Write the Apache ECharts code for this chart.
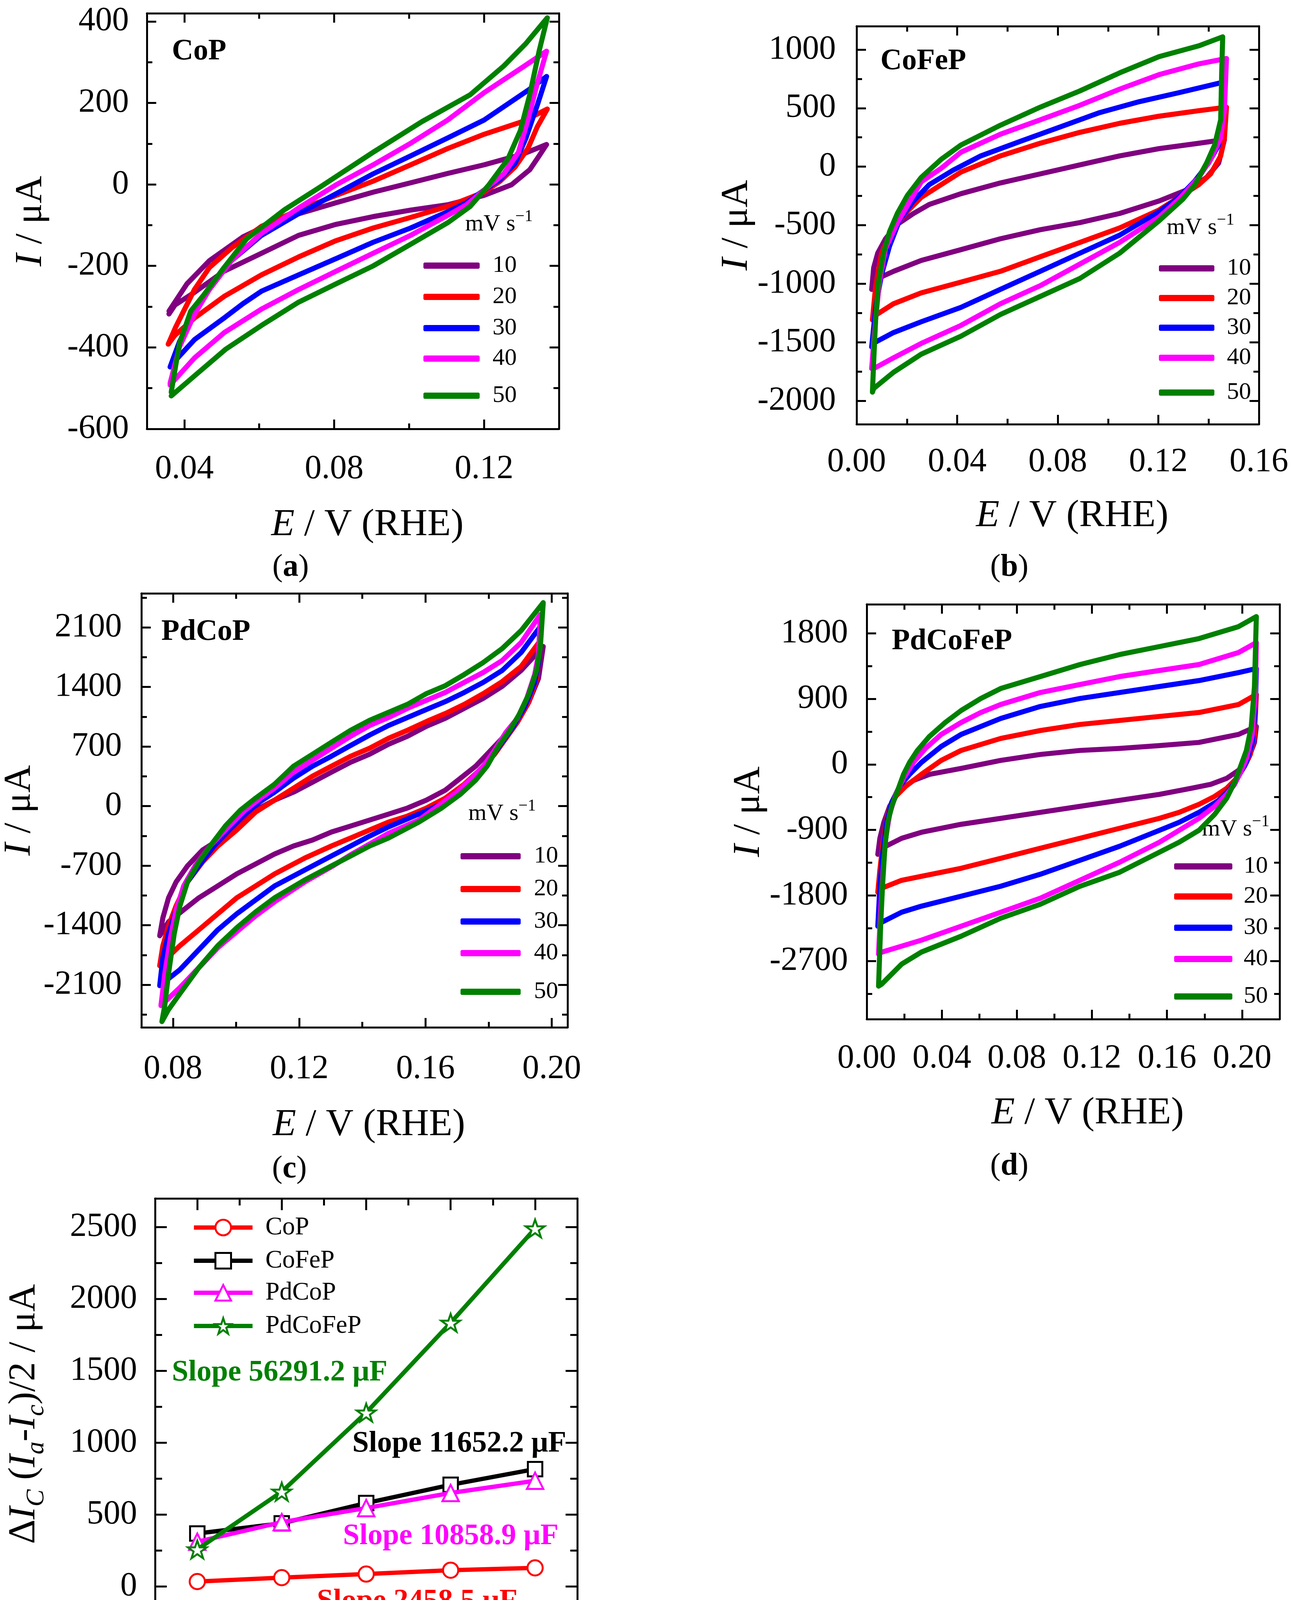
<!DOCTYPE html>
<html><head><meta charset="utf-8">
<script src="https://cdn.jsdelivr.net/npm/echarts@6/dist/echarts.min.js"></script>
<style>html,body{margin:0;padding:0;background:#fff}#c{width:3341px;height:4614px}</style>
</head><body><div id="c"></div><script>
const FONT = "'Liberation Serif','Times New Roman',Times,serif";
const rates = ['10','20','30','40','50'];
const rateColors = ['#800080','#ff0000','#0000ff','#ff00ff','#008000'];

// ---------- (a) CoP : [E / V, I / uA] ----------
const CoP_10 = [[0.0359,-311],[0.0407,-244],[0.0467,-187],[0.0556,-129],[0.0626,-98],[0.0705,-72],[0.0805,-45],[0.0904,-19],[0.1004,4],[0.1103,27],[0.1200,48],[0.1302,74],[0.1367,98],[0.1347,70],[0.1322,36],[0.1273,-1],[0.1200,-27],[0.1103,-50],[0.1004,-63],[0.0904,-79],[0.0805,-98],[0.0705,-125],[0.0606,-169],[0.0506,-213],[0.0427,-265],[0.0375,-296],[0.0359,-318]];
const CoP_20 = [[0.0357,-392],[0.0377,-350],[0.0427,-258],[0.0467,-204],[0.0526,-156],[0.0606,-103],[0.0705,-63],[0.0805,-27],[0.0904,8],[0.1004,48],[0.1103,88],[0.1200,123],[0.1302,154],[0.1369,185],[0.1342,141],[0.1317,88],[0.1283,43],[0.1243,8],[0.1200,-19],[0.1103,-54],[0.1004,-81],[0.0904,-107],[0.0805,-138],[0.0705,-178],[0.0606,-222],[0.0506,-275],[0.0427,-328],[0.0375,-370],[0.0357,-392]];
const CoP_30 = [[0.0362,-448],[0.0387,-386],[0.0427,-315],[0.0467,-253],[0.0526,-187],[0.0606,-125],[0.0705,-72],[0.0805,-23],[0.0904,26],[0.1004,70],[0.1103,114],[0.1200,158],[0.1322,234],[0.1367,265],[0.1342,194],[0.1312,114],[0.1283,52],[0.1243,12],[0.1200,-14],[0.1153,-45],[0.1103,-67],[0.1004,-107],[0.0904,-142],[0.0805,-182],[0.0705,-222],[0.0606,-262],[0.0556,-293],[0.0506,-328],[0.0427,-381],[0.0365,-443]];
const CoP_40 = [[0.0362,-488],[0.0387,-399],[0.0427,-319],[0.0467,-258],[0.0526,-187],[0.0606,-120],[0.0705,-58],[0.0805,-1],[0.0904,48],[0.1004,101],[0.1103,158],[0.1200,225],[0.1302,287],[0.1367,327],[0.1342,247],[0.1317,158],[0.1292,79],[0.1253,26],[0.1200,-14],[0.1153,-50],[0.1103,-76],[0.1004,-125],[0.0904,-169],[0.0805,-213],[0.0705,-258],[0.0606,-306],[0.0506,-364],[0.0427,-426],[0.0362,-492]];
const CoP_50 = [[0.0365,-510],[0.0387,-390],[0.0417,-311],[0.0452,-271],[0.0506,-204],[0.0566,-134],[0.0666,-63],[0.0765,-5],[0.0904,79],[0.1034,154],[0.1163,220],[0.1253,291],[0.1312,346],[0.1369,409],[0.1347,327],[0.1322,220],[0.1297,132],[0.1263,61],[0.1213,-1],[0.1163,-54],[0.1103,-94],[0.1004,-147],[0.0904,-200],[0.0805,-244],[0.0705,-289],[0.0606,-346],[0.0511,-404],[0.0427,-470],[0.0365,-519]];

// ---------- (b) CoFeP ----------
const CoFeP_10 = [[0.0060,-1048],[0.0068,-863],[0.0084,-739],[0.0115,-616],[0.0162,-493],[0.0226,-400],[0.0289,-323],[0.0415,-231],[0.0572,-139],[0.0730,-62],[0.0888,15],[0.1046,92],[0.1203,154],[0.1361,200],[0.1463,231],[0.1440,31],[0.1392,-92],[0.1329,-185],[0.1203,-293],[0.1046,-400],[0.0888,-478],[0.0730,-539],[0.0572,-616],[0.0415,-709],[0.0257,-801],[0.0147,-894],[0.0084,-955],[0.0065,-1017],[0.0060,-1048]];
const CoFeP_20 = [[0.0063,-1309],[0.0076,-1017],[0.0099,-739],[0.0139,-555],[0.0194,-400],[0.0257,-262],[0.0336,-154],[0.0415,-46],[0.0572,92],[0.0730,200],[0.0888,293],[0.1046,370],[0.1203,431],[0.1361,478],[0.1471,508],[0.1463,246],[0.1448,92],[0.1408,-62],[0.1361,-154],[0.1282,-262],[0.1203,-370],[0.1046,-524],[0.0888,-647],[0.0730,-770],[0.0572,-894],[0.0415,-986],[0.0257,-1078],[0.0147,-1171],[0.0068,-1279],[0.0063,-1309]];
const CoFeP_30 = [[0.0060,-1540],[0.0076,-1202],[0.0099,-924],[0.0131,-678],[0.0170,-462],[0.0226,-293],[0.0289,-154],[0.0383,-31],[0.0494,92],[0.0651,216],[0.0809,339],[0.0967,462],[0.1124,555],[0.1282,632],[0.1463,724],[0.1456,400],[0.1440,185],[0.1400,31],[0.1345,-123],[0.1282,-262],[0.1203,-385],[0.1046,-585],[0.0888,-739],[0.0730,-894],[0.0572,-1048],[0.0415,-1202],[0.0257,-1325],[0.0147,-1417],[0.0065,-1510],[0.0060,-1540]];
const CoFeP_40 = [[0.0060,-1725],[0.0076,-1294],[0.0091,-986],[0.0115,-700],[0.0162,-480],[0.0257,-130],[0.0336,-15],[0.0415,123],[0.0572,277],[0.0730,400],[0.0888,524],[0.1046,662],[0.1203,786],[0.1361,878],[0.1471,924],[0.1463,493],[0.1448,246],[0.1408,62],[0.1361,-92],[0.1282,-277],[0.1203,-431],[0.1046,-647],[0.0888,-832],[0.0730,-1017],[0.0572,-1171],[0.0415,-1356],[0.0257,-1510],[0.0147,-1633],[0.0068,-1725]];
const CoFeP_50 = [[0.0063,-1926],[0.0068,-1664],[0.0076,-1294],[0.0087,-986],[0.0107,-739],[0.0131,-555],[0.0162,-400],[0.0202,-246],[0.0257,-92],[0.0336,62],[0.0415,185],[0.0572,354],[0.0730,508],[0.0888,647],[0.1046,801],[0.1203,940],[0.1361,1032],[0.1456,1109],[0.1452,801],[0.1448,400],[0.1424,185],[0.1392,31],[0.1345,-154],[0.1298,-277],[0.1203,-462],[0.1046,-739],[0.0888,-955],[0.0730,-1109],[0.0572,-1263],[0.0415,-1448],[0.0257,-1602],[0.0147,-1756],[0.0068,-1895],[0.0063,-1926]];

// ---------- (c) PdCoP ----------
const PdCoP_10 = [[0.0758,-1524],[0.0768,-1313],[0.0786,-1078],[0.0810,-891],[0.0846,-703],[0.0894,-516],[0.0954,-375],[0.1014,-188],[0.1074,-23],[0.1122,70],[0.1182,164],[0.1242,281],[0.1302,399],[0.1363,516],[0.1423,610],[0.1483,727],[0.1543,821],[0.1603,938],[0.1663,1032],[0.1723,1149],[0.1783,1266],[0.1843,1407],[0.1903,1594],[0.1973,1876],[0.1958,1500],[0.1927,1219],[0.1891,985],[0.1843,797],[0.1807,656],[0.1759,469],[0.1711,328],[0.1663,188],[0.1603,70],[0.1543,-23],[0.1483,-94],[0.1423,-164],[0.1363,-234],[0.1302,-305],[0.1242,-399],[0.1182,-469],[0.1122,-563],[0.1062,-680],[0.1002,-797],[0.0942,-938],[0.0882,-1078],[0.0834,-1219],[0.0786,-1360],[0.0758,-1524]];
const PdCoP_20 = [[0.0758,-1876],[0.0768,-1641],[0.0786,-1407],[0.0810,-1172],[0.0846,-891],[0.0894,-656],[0.0942,-469],[0.1002,-281],[0.1062,-70],[0.1122,70],[0.1182,211],[0.1242,352],[0.1302,469],[0.1363,586],[0.1423,680],[0.1483,797],[0.1543,891],[0.1603,994],[0.1663,1088],[0.1723,1196],[0.1783,1322],[0.1843,1463],[0.1903,1641],[0.1964,1946],[0.1952,1500],[0.1927,1219],[0.1891,985],[0.1855,797],[0.1819,610],[0.1771,422],[0.1723,258],[0.1663,94],[0.1603,-23],[0.1543,-117],[0.1483,-188],[0.1423,-281],[0.1363,-375],[0.1302,-469],[0.1218,-610],[0.1122,-797],[0.1062,-938],[0.1002,-1078],[0.0942,-1266],[0.0882,-1454],[0.0822,-1641],[0.0762,-1852]];
const PdCoP_30 = [[0.0758,-2110],[0.0768,-1782],[0.0786,-1500],[0.0810,-1219],[0.0846,-891],[0.0882,-703],[0.0930,-469],[0.0978,-281],[0.1026,-94],[0.1074,47],[0.1122,164],[0.1182,328],[0.1242,469],[0.1302,586],[0.1363,713],[0.1423,835],[0.1483,947],[0.1543,1041],[0.1603,1135],[0.1663,1228],[0.1723,1336],[0.1783,1454],[0.1843,1594],[0.1903,1805],[0.1964,2110],[0.1958,1688],[0.1946,1454],[0.1915,1172],[0.1879,938],[0.1843,750],[0.1807,563],[0.1771,375],[0.1723,211],[0.1663,47],[0.1603,-56],[0.1543,-150],[0.1483,-244],[0.1423,-352],[0.1363,-469],[0.1302,-586],[0.1218,-750],[0.1122,-938],[0.1062,-1102],[0.1002,-1266],[0.0942,-1454],[0.0882,-1688],[0.0822,-1922],[0.0758,-2110]];
const PdCoP_40 = [[0.0762,-2344],[0.0774,-1969],[0.0792,-1547],[0.0810,-1219],[0.0834,-938],[0.0870,-703],[0.0918,-469],[0.0966,-281],[0.1026,-56],[0.1074,84],[0.1122,211],[0.1182,399],[0.1242,539],[0.1302,680],[0.1363,821],[0.1423,947],[0.1483,1041],[0.1543,1149],[0.1603,1243],[0.1663,1336],[0.1723,1454],[0.1783,1571],[0.1843,1711],[0.1903,1922],[0.1964,2251],[0.1958,1782],[0.1946,1547],[0.1921,1266],[0.1891,1031],[0.1855,868],[0.1819,656],[0.1783,469],[0.1747,328],[0.1699,164],[0.1639,0],[0.1579,-164],[0.1483,-319],[0.1423,-445],[0.1363,-572],[0.1302,-713],[0.1218,-891],[0.1122,-1125],[0.1062,-1290],[0.1002,-1477],[0.0942,-1665],[0.0882,-1899],[0.0822,-2133],[0.0762,-2344]];
const PdCoP_50 = [[0.0765,-2532],[0.0774,-2344],[0.0786,-1969],[0.0804,-1500],[0.0822,-1172],[0.0846,-891],[0.0882,-656],[0.0918,-469],[0.0966,-234],[0.1014,-47],[0.1062,94],[0.1122,258],[0.1182,469],[0.1242,609],[0.1302,750],[0.1363,891],[0.1423,1008],[0.1483,1102],[0.1543,1196],[0.1603,1322],[0.1663,1416],[0.1723,1547],[0.1783,1688],[0.1843,1852],[0.1903,2063],[0.1973,2391],[0.1964,1876],[0.1952,1594],[0.1927,1313],[0.1897,1078],[0.1867,891],[0.1831,703],[0.1795,469],[0.1759,305],[0.1711,141],[0.1651,-23],[0.1579,-188],[0.1483,-375],[0.1423,-469],[0.1363,-586],[0.1302,-703],[0.1218,-867],[0.1122,-1078],[0.1062,-1243],[0.1002,-1430],[0.0942,-1641],[0.0882,-1899],[0.0822,-2204],[0.0786,-2391],[0.0765,-2532]];

// ---------- (d) PdCoFeP ----------
const PdCoFeP_10 = [[0.0059,-1235],[0.0070,-1015],[0.0091,-796],[0.0122,-576],[0.0175,-357],[0.0249,-220],[0.0334,-137],[0.0503,-55],[0.0714,55],[0.0925,137],[0.1136,192],[0.1347,220],[0.1559,258],[0.1770,302],[0.1981,412],[0.2076,521],[0.2066,302],[0.2034,82],[0.1981,-82],[0.1918,-192],[0.1833,-274],[0.1728,-329],[0.1559,-412],[0.1347,-494],[0.1136,-576],[0.0925,-659],[0.0714,-741],[0.0503,-823],[0.0291,-933],[0.0186,-1015],[0.0080,-1152],[0.0059,-1235]];
const PdCoFeP_20 = [[0.0059,-1756],[0.0070,-1454],[0.0087,-1070],[0.0112,-686],[0.0154,-439],[0.0207,-302],[0.0291,-137],[0.0397,55],[0.0503,192],[0.0714,357],[0.0925,466],[0.1136,549],[0.1347,604],[0.1559,659],[0.1770,713],[0.1981,823],[0.2076,960],[0.2066,412],[0.2044,137],[0.2013,-27],[0.1971,-192],[0.1918,-329],[0.1854,-439],[0.1770,-549],[0.1664,-659],[0.1559,-741],[0.1347,-878],[0.1136,-1015],[0.0925,-1152],[0.0714,-1290],[0.0503,-1427],[0.0291,-1537],[0.0186,-1592],[0.0080,-1701],[0.0059,-1756]];
const PdCoFeP_30 = [[0.0059,-2223],[0.0070,-1674],[0.0084,-1235],[0.0106,-796],[0.0133,-521],[0.0175,-302],[0.0228,-137],[0.0291,27],[0.0397,247],[0.0503,412],[0.0608,521],[0.0714,631],[0.0925,796],[0.1136,906],[0.1347,988],[0.1559,1070],[0.1770,1152],[0.1981,1262],[0.2076,1317],[0.2070,741],[0.2055,302],[0.2023,27],[0.1981,-165],[0.1939,-329],[0.1875,-494],[0.1770,-659],[0.1664,-796],[0.1559,-906],[0.1347,-1125],[0.1136,-1317],[0.0925,-1509],[0.0714,-1674],[0.0503,-1811],[0.0291,-1948],[0.0186,-2031],[0.0080,-2168],[0.0059,-2223]];
const PdCoFeP_40 = [[0.0063,-2607],[0.0074,-2003],[0.0087,-1454],[0.0101,-1015],[0.0122,-686],[0.0154,-412],[0.0196,-192],[0.0249,27],[0.0313,220],[0.0397,412],[0.0503,576],[0.0608,713],[0.0714,823],[0.0925,988],[0.1136,1098],[0.1347,1207],[0.1559,1290],[0.1770,1372],[0.1981,1537],[0.2076,1674],[0.2070,960],[0.2055,412],[0.2023,82],[0.1992,-110],[0.1960,-274],[0.1918,-412],[0.1854,-576],[0.1770,-741],[0.1664,-906],[0.1559,-1070],[0.1347,-1345],[0.1136,-1592],[0.0925,-1838],[0.0714,-2031],[0.0503,-2223],[0.0291,-2415],[0.0186,-2497],[0.0080,-2579],[0.0063,-2607]];
const PdCoFeP_50 = [[0.0063,-3046],[0.0074,-2223],[0.0084,-1674],[0.0097,-1125],[0.0112,-796],[0.0133,-576],[0.0165,-357],[0.0196,-137],[0.0228,27],[0.0270,192],[0.0334,384],[0.0418,576],[0.0503,741],[0.0608,906],[0.0714,1043],[0.0925,1207],[0.1136,1372],[0.1347,1509],[0.1559,1619],[0.1770,1729],[0.1981,1893],[0.2076,2031],[0.2066,1070],[0.2049,521],[0.2023,192],[0.1992,-27],[0.1960,-247],[0.1918,-466],[0.1854,-686],[0.1770,-906],[0.1664,-1070],[0.1559,-1207],[0.1347,-1482],[0.1136,-1674],[0.0925,-1921],[0.0714,-2113],[0.0503,-2360],[0.0291,-2579],[0.0186,-2744],[0.0080,-3018],[0.0063,-3046]];

// ---------- (e) double-layer current vs scan rate ----------
const scanRates = [0.01,0.02,0.03,0.04,0.05];
const dI_CoP = [35,62,87,114,130];
const dI_CoFeP = [369,440,581,708,817];
const dI_PdCoP = [312,448,546,651,736];
const dI_PdCoFeP = [258,660,1210,1835,2491];
const slopeTexts = ['Slope 2458.5 μF','Slope 11652.2 μF','Slope 10858.9 μF','Slope 56291.2 μF'];

// ---------- tick values (major = labelled, minor = unlabelled) ----------
const a_xMajor=[0.04,0.08,0.12], a_xMinor=[0.06,0.10,0.14];
const a_yMajor=[-600,-400,-200,0,200,400], a_yMinor=[-500,-300,-100,100,300];
const b_xMajor=[0.00,0.04,0.08,0.12,0.16], b_xMinor=[0.02,0.06,0.10,0.14];
const b_yMajor=[-2000,-1500,-1000,-500,0,500,1000], b_yMinor=[-1750,-1250,-750,-250,250,750];
const c_xMajor=[0.08,0.12,0.16,0.20], c_xMinor=[0.10,0.14,0.18];
const c_yMajor=[-2100,-1400,-700,0,700,1400,2100], c_yMinor=[-2450,-1750,-1050,-350,350,1050,1750,2450];
const d_xMajor=[0.00,0.04,0.08,0.12,0.16,0.20], d_xMinor=[0.02,0.06,0.10,0.14,0.18];
const d_yMajor=[-2700,-1800,-900,0,900,1800], d_yMinor=[-3150,-2250,-1350,-450,450,1350];
const e_xMajor=[0.01,0.02,0.03,0.04,0.05], e_xMinor=[0.015,0.025,0.035,0.045];
const e_yMajor=[0,500,1000,1500,2000,2500], e_yMinor=[-250,250,750,1250,1750,2250];

const panels = [
 {tag:'a', title:'CoP', curves:[CoP_10,CoP_20,CoP_30,CoP_40,CoP_50], box:[376,34,1055,1064], xMin:0.03, xMax:0.14, xMajor:a_xMajor, xMinor:a_xMinor, yMin:-600, yMax:420, yMajor:a_yMajor, yMinor:a_yMinor,
  yGap:248, xGap:197, xMargin:60, yMargin:46, titleXY:[440,132], legX:1084, legW:144, legPad:28, legY:[657,737,817,895,990], unitXY:[1191,574], tagXY:[744,1453]},
 {tag:'b', title:'CoFeP', curves:[CoFeP_10,CoFeP_20,CoFeP_30,CoFeP_40,CoFeP_50], box:[2193,67,1030,1019], xMin:0, xMax:0.16, xMajor:b_xMajor, xMinor:b_xMinor, yMin:-2200, yMax:1200, yMajor:b_yMajor, yMinor:b_yMinor,
  yGap:248, xGap:186, xMargin:54, yMargin:53, titleXY:[2254,157], legX:2967, legW:142, legPad:27, legY:[664,740,816,893,982], unitXY:[2987,583], tagXY:[2584,1453]},
 {tag:'c', title:'PdCoP', curves:[PdCoP_10,PdCoP_20,PdCoP_30,PdCoP_40,PdCoP_50], box:[345,1519,1108,1111], xMin:0.07, xMax:0.205, xMajor:c_xMajor, xMinor:c_xMinor, yMin:-2600, yMax:2500, yMajor:c_yMajor, yMinor:c_yMinor,
  yGap:263, xGap:201, xMargin:64, yMargin:50, titleXY:[413,1618], legX:1179, legW:154, legPad:29, legY:[2169,2253,2336,2417,2516], unitXY:[1199,2083], tagXY:[741,2993]},
 {tag:'d', title:'PdCoFeP', curves:[PdCoFeP_10,PdCoFeP_20,PdCoFeP_30,PdCoFeP_40,PdCoFeP_50], box:[2219,1547,1057,1062], xMin:0, xMax:0.22, xMajor:d_xMajor, xMinor:d_xMinor, yMin:-3500, yMax:2200, yMajor:d_yMajor, yMinor:d_yMinor,
  yGap:249, xGap:192, xMargin:58, yMargin:48, titleXY:[2283,1642], legX:3006, legW:149, legPad:24, legY:[2195,2272,2352,2432,2528], unitXY:[3077,2123], tagXY:[2584,2986]}
];

const grids=[], xAxes=[], yAxes=[], series=[], legends=[], graphics=[];
const lineSt = {color:'#000', width:5};
function tickCfg(vals, len){ return {show:true, inside:true, length:len, customValues:vals, lineStyle:{color:'#000', width:5}}; }
const italicRich = {i:{fontStyle:'italic', fontFamily:FONT, fontSize:98, color:'#000'}};
const LABEL_FS = 86;

function addFrame(gi, p, xName, yName, xNameStyle, yNameStyle, majLen, minLen){
  grids.push({left:p.box[0], top:p.box[1], width:p.box[2], height:p.box[3]});
  const xb = {type:'value', gridIndex:gi, min:p.xMin, max:p.xMax, splitLine:{show:false}};
  const yb = {type:'value', gridIndex:gi, min:p.yMin, max:p.yMax, splitLine:{show:false}};
  // bottom: major + labels + title
  xAxes.push(Object.assign({}, xb, {position:'bottom', axisLine:{show:true, onZero:false, lineStyle:lineSt}, axisTick:tickCfg(p.xMajor, majLen),
    axisLabel:{customValues:p.xMajor, formatter:v=>Number(v).toFixed(2), fontFamily:FONT, fontSize:LABEL_FS, color:'#000', margin:p.xMargin},
    name:xName, nameLocation:'middle', nameGap:p.xGap, nameTextStyle:xNameStyle}));
  xAxes.push(Object.assign({}, xb, {position:'bottom', axisLine:{show:false, onZero:false}, axisTick:tickCfg(p.xMinor, minLen), axisLabel:{show:false}}));
  xAxes.push(Object.assign({}, xb, {position:'top', axisLine:{show:true, onZero:false, lineStyle:lineSt}, axisTick:tickCfg(p.xMajor, majLen), axisLabel:{show:false}}));
  xAxes.push(Object.assign({}, xb, {position:'top', axisLine:{show:false, onZero:false}, axisTick:tickCfg(p.xMinor, minLen), axisLabel:{show:false}}));
  // left: major + labels + title
  yAxes.push(Object.assign({}, yb, {position:'left', axisLine:{show:true, onZero:false, lineStyle:lineSt}, axisTick:tickCfg(p.yMajor, majLen),
    axisLabel:{customValues:p.yMajor, formatter:v=>String(Math.round(v)), fontFamily:FONT, fontSize:LABEL_FS, color:'#000', margin:p.yMargin},
    name:yName, nameLocation:'middle', nameRotate:90, nameGap:p.yGap, nameTextStyle:yNameStyle}));
  yAxes.push(Object.assign({}, yb, {position:'left', axisLine:{show:false, onZero:false}, axisTick:tickCfg(p.yMinor, minLen), axisLabel:{show:false}}));
  yAxes.push(Object.assign({}, yb, {position:'right', axisLine:{show:true, onZero:false, lineStyle:lineSt}, axisTick:tickCfg(p.yMajor, majLen), axisLabel:{show:false}}));
  yAxes.push(Object.assign({}, yb, {position:'right', axisLine:{show:false, onZero:false}, axisTick:tickCfg(p.yMinor, minLen), axisLabel:{show:false}}));
}

panels.forEach((p, gi) => {
  addFrame(gi, p, '{i|E} / V (RHE)', '{i|I} / μA',
    {fontFamily:FONT, fontSize:98, color:'#000', padding:[0,0,0,74], rich:italicRich},
    {fontFamily:FONT, fontSize:98, color:'#000', rich:italicRich}, 24, 14);
  p.curves.forEach((c, k) => {
    series.push({type:'line', name:rates[k], xAxisIndex:4*gi, yAxisIndex:4*gi, data:c, showSymbol:false, symbol:'none',
      lineStyle:{color:rateColors[k], width:13, cap:'round', join:'round'}, itemStyle:{color:rateColors[k]}, z:2+k, animation:false});
    legends.push({data:[rates[k]], left:p.legX, top:p.legY[k]-8, padding:0, itemWidth:p.legW, itemHeight:16, icon:'roundRect', selectedMode:false,
      textStyle:{fontFamily:FONT, fontSize:62, color:'#000', padding:[0,0,0,p.legPad]}});
  });
  graphics.push({type:'text', x:p.titleXY[0], y:p.titleXY[1], style:{text:p.title, fontFamily:FONT, fontWeight:'bold', fontSize:76, fill:'#000', align:'left', verticalAlign:'middle'}});
  graphics.push({type:'text', x:p.unitXY[0], y:p.unitXY[1], style:{text:'mV s{sup|−1}', fontFamily:FONT, fontSize:60, fill:'#000', lineHeight:80, align:'left', verticalAlign:'middle',
    rich:{sup:{fontFamily:FONT, fontSize:42, lineHeight:42, verticalAlign:'top', fill:'#000'}}}});
  graphics.push({type:'text', x:p.tagXY[0], y:p.tagXY[1], style:{text:'({b|'+p.tag+'})', fontFamily:FONT, fontSize:80, fill:'#000', align:'center', verticalAlign:'middle',
    rich:{b:{fontFamily:FONT, fontWeight:'bold', fontSize:80, fill:'#000'}}}});
});

// ---------- panel (e) ----------
const pe = {box:[397,3068,1081,1104], xMin:0.005, xMax:0.055, xMajor:e_xMajor, xMinor:e_xMinor, yMin:-300, yMax:2700, yMajor:e_yMajor, yMinor:e_yMinor,
  xGap:182, yGap:270, xMargin:63, yMargin:46};
const gE = panels.length;
addFrame(gE, pe, '{n|ν / V s}{sup|−1}',
  '{n|Δ}{i|I}{s|C}{n| (}{i|I}{s|a}{n|-}{i|I}{s|c}{n|)/2 / μA}',
  {fontFamily:FONT, fontSize:98, color:'#000', rich:{n:{fontFamily:FONT, fontSize:98, lineHeight:130, color:'#000'}, sup:{fontFamily:FONT, fontSize:64, lineHeight:64, verticalAlign:'top', color:'#000'}}},
  {fontFamily:FONT, fontSize:98, color:'#000', rich:{n:{fontFamily:FONT, fontSize:98, lineHeight:130, color:'#000'}, i:{fontFamily:FONT, fontStyle:'italic', fontSize:98, lineHeight:130, color:'#000'}, s:{fontFamily:FONT, fontStyle:'italic', fontSize:66, lineHeight:66, verticalAlign:'bottom', color:'#000'}}},
  30, 18);

const STAR = 'path://M50,2 L61.8,36.2 L97.6,36.2 L68.7,57.4 L79.6,91.6 L50,70.6 L20.4,91.6 L31.3,57.4 L2.4,36.2 L38.2,36.2 Z';
const eSeriesDefs = [
  {name:'CoP', vals:dI_CoP, color:'#ff0000', symbol:'circle', size:39},
  {name:'CoFeP', vals:dI_CoFeP, color:'#000000', symbol:'rect', size:37},
  {name:'PdCoP', vals:dI_PdCoP, color:'#ff00ff', symbol:'triangle', size:42},
  {name:'PdCoFeP', vals:dI_PdCoFeP, color:'#008000', symbol:STAR, size:48}
];
const eLegY = [3135,3220,3302,3387];
eSeriesDefs.forEach((s, k) => {
  series.push({type:'line', name:s.name, xAxisIndex:4*gE, yAxisIndex:4*gE, data:scanRates.map((v,i)=>[v, s.vals[i]]),
    symbol:s.symbol, symbolSize:s.size, symbolKeepAspect:true, showSymbol:true,
    lineStyle:{color:s.color, width:11}, itemStyle:{color:'#ffffff', borderColor:s.color, borderWidth:5}, z:10+k, animation:false});
  legends.push({data:[s.name], left:491, top:eLegY[k]-25, padding:0, itemWidth:150, itemHeight:50, selectedMode:false,
    lineStyle:{width:'inherit'}, itemStyle:{borderWidth:'inherit'},
    textStyle:{fontFamily:FONT, fontSize:65, color:'#000', padding:[0,0,0,28]}});
});
const slopeStyle = [
  {x:811, y:4100, color:'#ff0000'},
  {x:902, y:3696, color:'#000000'},
  {x:878, y:3933, color:'#ff00ff'},
  {x:440, y:3514, color:'#008000'}
];
slopeTexts.forEach((t,k)=>{
  graphics.push({type:'text', x:slopeStyle[k].x, y:slopeStyle[k].y, style:{text:t, fontFamily:FONT, fontWeight:'bold', fontSize:76, fill:slopeStyle[k].color, align:'left', verticalAlign:'middle'}});
});
graphics.push({type:'text', x:744, y:4536, style:{text:'({b|e})', fontFamily:FONT, fontSize:80, fill:'#000', align:'center', verticalAlign:'middle', rich:{b:{fontFamily:FONT, fontWeight:'bold', fontSize:80, fill:'#000'}}}});

const chart = echarts.init(document.getElementById('c'), null, {renderer:'canvas', width:3341, height:4614});
chart.setOption({
  backgroundColor:'#ffffff', animation:false,
  grid:grids, xAxis:xAxes, yAxis:yAxes, series:series, legend:legends, graphic:graphics
});
</script></body></html>
